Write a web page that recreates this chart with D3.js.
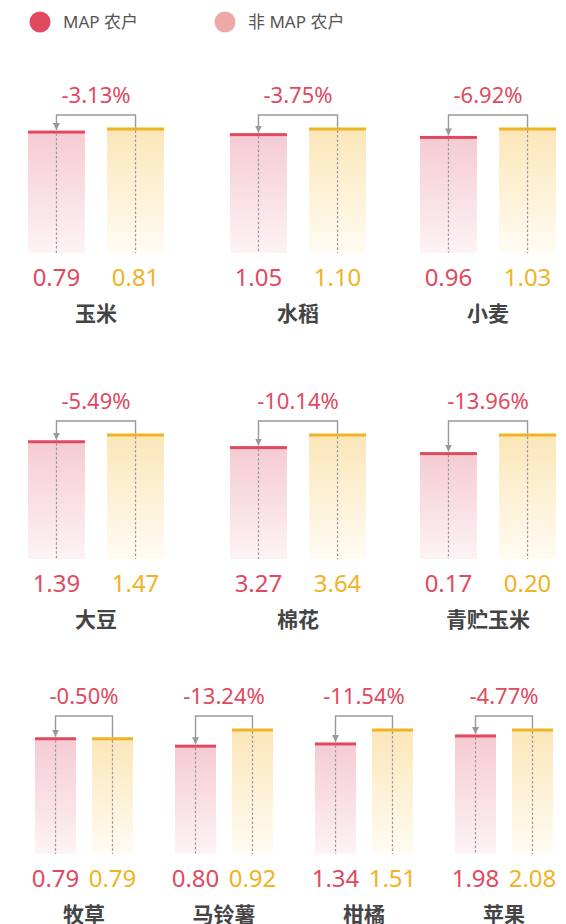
<!DOCTYPE html>
<html>
<head>
<meta charset="utf-8">
<script src="https://cdn.jsdelivr.net/npm/d3@7"></script>
<style>
  body { margin: 0; background: #fff; }
  text { font-family: "Noto Sans", "Noto Sans CJK SC", sans-serif; }
</style>
</head>
<body>
<script>
const crops = ['玉米', '水稻', '小麦', '大豆', '棉花', '青贮玉米', '牧草', '马铃薯', '柑橘', '苹果'];
const mapValues = [0.79, 1.05, 0.96, 1.39, 3.27, 0.17, 0.79, 0.80, 1.34, 1.98];
const nonMapValues = [0.81, 1.10, 1.03, 1.47, 3.64, 0.20, 0.79, 0.92, 1.51, 2.08];
const changeLabels = ['-3.13%', '-3.75%', '-6.92%', '-5.49%', '-10.14%', '-13.96%', '-0.50%', '-13.24%', '-11.54%', '-4.77%'];
// axis top of each small chart
const axisMax = [0.81, 1.10, 1.03, 1.47, 3.64, 0.20, 0.85, 0.92, 1.51, 2.08];
const seriesNames = ['MAP 农户', '非 MAP 农户'];

const width = 566, height = 924;
const red = '#e04a5f', amber = '#f0b323', grey = '#999';

const svg = d3.select('body').append('svg')
  .attr('width', width)
  .attr('height', height);

const defs = svg.append('defs');
function grad(id, top, bottom) {
  const g = defs.append('linearGradient').attr('id', id)
    .attr('x1', 0).attr('y1', 0).attr('x2', 0).attr('y2', 1);
  g.append('stop').attr('offset', '0%').attr('stop-color', top);
  g.append('stop').attr('offset', '100%').attr('stop-color', bottom);
}
grad('gRed', '#f5cbd3', '#fdf3f5');
grad('gAmber', '#fbe6b9', '#fffcf3');

defs.append('marker')
  .attr('id', 'arrow')
  .attr('viewBox', '0 0 10 10')
  .attr('refX', 10).attr('refY', 5)
  .attr('markerWidth', 5).attr('markerHeight', 5)
  .attr('markerUnits', 'strokeWidth')
  .attr('orient', 'auto')
  .append('path').attr('d', 'M0,0L10,5L0,10Z').attr('fill', grey);

// legend
const legend = svg.append('g');
const legendX = [40, 225];
const legendColors = [red, '#eea9a7'];
seriesNames.forEach((n, i) => {
  legend.append('circle').attr('cx', legendX[i]).attr('cy', 22).attr('r', 10.5).attr('fill', legendColors[i]);
  legend.append('text').attr('x', legendX[i] + 23).attr('y', 22).attr('dy', '0.35em')
    .attr('font-size', 17).attr('fill', '#555').text(n);
});

// layout: rows of small charts
const rows = [
  { idx: [0, 1, 2], bottom: 253, centers: [96, 298, 488], band: 136 },
  { idx: [3, 4, 5], bottom: 559, centers: [96, 298, 488], band: 136 },
  { idx: [6, 7, 8, 9], bottom: 854, centers: d3.range(4).map(i => 84 + i * 140), band: 98 }
];
const barH = 124;

rows.forEach(row => {
  row.idx.forEach((k, j) => {
    const cx = row.centers[j];
    const b = row.bottom;
    const g = svg.append('g');

    const x = d3.scaleBand()
      .domain([0, 1])
      .range([cx - row.band / 2, cx + row.band / 2])
      .paddingInner(0.28);
    const y = d3.scaleLinear()
      .domain([0, axisMax[k]])
      .range([b, b - barH]);

    const vals = [mapValues[k], nonMapValues[k]];
    const fills = ['url(#gRed)', 'url(#gAmber)'];
    const strokes = [red, amber];

    g.selectAll('rect.bar').data(vals).join('rect')
      .attr('class', 'bar')
      .attr('x', (d, i) => x(i))
      .attr('y', d => y(d))
      .attr('width', x.bandwidth())
      .attr('height', d => b - y(d))
      .attr('fill', (d, i) => fills[i]);

    g.selectAll('rect.cap').data(vals).join('rect')
      .attr('class', 'cap')
      .attr('x', (d, i) => x(i))
      .attr('y', d => y(d) - 1.5)
      .attr('width', x.bandwidth())
      .attr('height', 3)
      .attr('fill', (d, i) => strokes[i]);

    // dotted centre lines
    g.selectAll('line.mid').data(vals).join('line')
      .attr('class', 'mid')
      .attr('x1', (d, i) => x(i) + x.bandwidth() / 2)
      .attr('x2', (d, i) => x(i) + x.bandwidth() / 2)
      .attr('y1', d => y(d) + 1.5)
      .attr('y2', b)
      .attr('stroke', grey).attr('stroke-width', 1.2)
      .attr('stroke-dasharray', '2.5,2');

    // connector arrow from non-MAP to MAP
    const m0 = x(0) + x.bandwidth() / 2, m1 = x(1) + x.bandwidth() / 2;
    const cy = b - 138;
    g.append('path')
      .attr('d', `M${m1},${y(vals[1]) - 1.5}V${cy}H${m0}V${y(vals[0]) - 2}`)
      .attr('fill', 'none')
      .attr('stroke', grey).attr('stroke-width', 1.4)
      .attr('marker-end', 'url(#arrow)');

    g.append('text')
      .attr('x', cx).attr('y', b - 158).attr('dy', '0.35em')
      .attr('text-anchor', 'middle')
      .attr('font-size', 22).attr('fill', red)
      .text(changeLabels[k]);

    g.selectAll('text.val').data(vals).join('text')
      .attr('class', 'val')
      .attr('x', (d, i) => x(i) + x.bandwidth() / 2)
      .attr('y', b + 25).attr('dy', '0.35em')
      .attr('text-anchor', 'middle')
      .attr('font-size', 24)
      .attr('fill', (d, i) => strokes[i])
      .text(d => d3.format('.2f')(d));

    g.append('text')
      .attr('x', cx).attr('y', b + 61).attr('dy', '0.35em')
      .attr('text-anchor', 'middle')
      .attr('font-size', 21).attr('font-weight', 'bold').attr('fill', '#444')
      .text(crops[k]);
  });
});
</script>
</body>
</html>
